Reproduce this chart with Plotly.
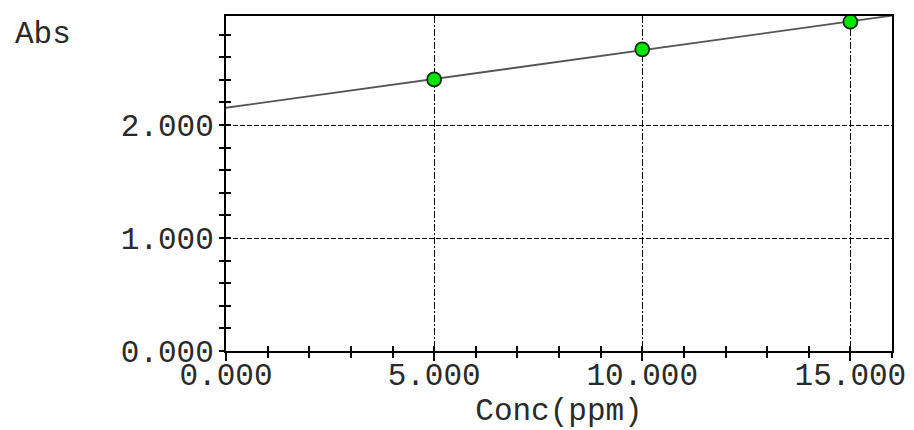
import numpy as np
import plotly.graph_objects as go

# Calibration standards: concentration (ppm) vs absorbance
conc = [5.0, 10.0, 15.0]
absorbance = [2.404, 2.670, 2.914]

x_range = [0.0, 16.0]
y_range = [0.0, 2.965]
x_ticks = [0.0, 5.0, 10.0, 15.0]
y_ticks = [0.0, 1.0, 2.0]
x_labels = ["0.000", "5.000", "10.000", "15.000"]
y_labels = ["0.000", "1.000", "2.000"]

# Least-squares calibration line over the full axis span
slope, intercept = np.polyfit(conc, absorbance, 1)
fit_x = np.array(x_range)
fit_y = intercept + slope * fit_x

FONT = "Liberation Mono, Courier New, monospace"
FS = 31
TXT = "#2a2a2a"

fig = go.Figure()
fig.add_trace(go.Scatter(
    x=fit_x, y=fit_y, mode="lines",
    line=dict(color="#555555", width=1.8),
    hoverinfo="skip", showlegend=False,
))
fig.add_trace(go.Scatter(
    x=conc, y=absorbance, mode="markers",
    marker=dict(size=14, color="#00e600", line=dict(color="#143014", width=1.8)),
    showlegend=False,
))
# Invisible trace on the overlay axes that carry the inward tick marks
fig.add_trace(go.Scatter(
    x=conc, y=absorbance, mode="none", xaxis="x2", yaxis="y2",
    hoverinfo="skip", showlegend=False,
))

fig.update_layout(
    width=914, height=430,
    margin=dict(l=226, r=22, t=16, b=79, autoexpand=False),
    paper_bgcolor="white", plot_bgcolor="white",
    font=dict(family=FONT, size=FS, color=TXT),
    xaxis=dict(
        range=x_range, tickmode="array", tickvals=x_ticks, ticktext=x_labels,
        ticks="outside", ticklen=8, tickwidth=2, tickcolor="#000",
        minor=dict(ticks="outside", dtick=1, ticklen=5, tickwidth=2, tickcolor="#000", showgrid=False),
        showline=True, linecolor="#000", linewidth=2, mirror=True,
        zeroline=False, ticklabelstandoff=-13, automargin=False,
        title=dict(text="Conc(ppm)", font=dict(family=FONT, size=FS, color=TXT), standoff=2),
        showgrid=True, gridcolor="#000", gridwidth=1.2, griddash="7px,2px,2px,2px",
    ),
    yaxis=dict(
        range=y_range, tickmode="array", tickvals=y_ticks, ticktext=y_labels,
        ticks="outside", ticklen=5, tickwidth=2, tickcolor="#000",
        minor=dict(ticks="outside", dtick=0.2, ticklen=5, tickwidth=2, tickcolor="#000", showgrid=False),
        showline=True, linecolor="#000", linewidth=2, mirror=True,
        zeroline=False, ticklabelstandoff=-1, automargin=False,
        showgrid=True, gridcolor="#000", gridwidth=1.2, griddash="5px,2px",
    ),
    xaxis2=dict(
        overlaying="x", range=x_range, tickmode="array", tickvals=x_ticks,
        showticklabels=False, ticks="inside", ticklen=5, tickwidth=2, tickcolor="#000",
        minor=dict(ticks="inside", dtick=1, ticklen=5, tickwidth=2, tickcolor="#000", showgrid=False),
        showgrid=False, zeroline=False, showline=False, anchor="y2", side="bottom",
    ),
    yaxis2=dict(
        overlaying="y", range=y_range, tickmode="array", tickvals=y_ticks,
        showticklabels=False, ticks="inside", ticklen=5, tickwidth=2, tickcolor="#000",
        minor=dict(ticks="inside", dtick=0.2, ticklen=5, tickwidth=2, tickcolor="#000", showgrid=False),
        showgrid=False, zeroline=False, showline=False, anchor="x2", side="left",
    ),
    annotations=[dict(
        text="Abs", xref="paper", yref="paper", x=-0.229, y=0.946,
        xanchor="right", yanchor="middle", showarrow=False,
        font=dict(family=FONT, size=FS, color=TXT),
    )],
)

fig.write_html("out.html")
